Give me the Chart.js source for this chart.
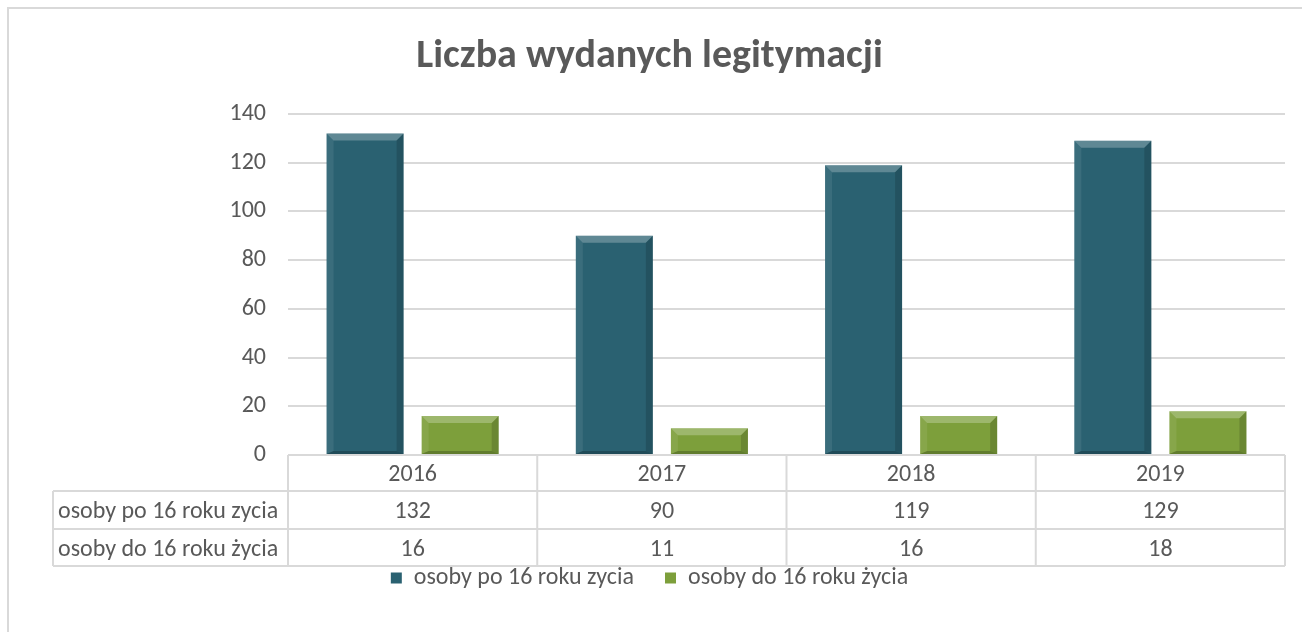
<!DOCTYPE html>
<html>
<head>
<meta charset="utf-8">
<script src="https://cdn.jsdelivr.net/npm/chart.js@4/dist/chart.umd.min.js"></script>
<style>
html,body{margin:0;padding:0;background:#fff;}
#wrap{position:relative;width:1302px;height:632px;}
#frame{position:absolute;left:7px;top:7px;width:1400px;height:700px;border-left:2px solid #d9d9d9;border-top:2px solid #d9d9d9;box-sizing:border-box;}
canvas{position:absolute;left:0;top:0;}
</style>
</head>
<body>
<div id="wrap"><div id="frame"></div><canvas id="c" width="1302" height="632"></canvas></div>
<script>
const categories = ["2016", "2017", "2018", "2019"];
const seriesNames = ["osoby po 16 roku zycia", "osoby do 16 roku życia"];
const seriesAbove16 = [132, 90, 119, 129];
const seriesUnder16 = [16, 11, 16, 18];
const yTicks = [0, 20, 40, 60, 80, 100, 120, 140];
const chartTitle = "Liczba wydanych legitymacji";

const FONT = "Carlito, Lato, 'Open Sans', sans-serif";
const TXT = "#595959";
const LINE = "#d9d9d9";
const colors = ["#2a6171", "#7d9f3b"];

const bevelPlugin = {
  id: 'bevel',
  afterDatasetsDraw(chart) {
    const ctx = chart.ctx;
    chart.data.datasets.forEach((ds, di) => {
      const meta = chart.getDatasetMeta(di);
      meta.data.forEach(bar => {
        const w = bar.width, l = bar.x - w / 2, r = bar.x + w / 2, t = bar.y, b = bar.base;
        const s = Math.min(7, (b - t) / 2);
        const sb = Math.min(3, (b - t) / 4);
        ctx.save();
        ctx.fillStyle = 'rgba(255,255,255,0.25)';
        ctx.beginPath(); ctx.moveTo(l, t); ctx.lineTo(r, t); ctx.lineTo(r - s, t + s); ctx.lineTo(l + s, t + s); ctx.closePath(); ctx.fill();
        ctx.fillStyle = 'rgba(255,255,255,0.08)';
        ctx.beginPath(); ctx.moveTo(l, t); ctx.lineTo(l + s, t + s); ctx.lineTo(l + s, b - sb); ctx.lineTo(l, b); ctx.closePath(); ctx.fill();
        ctx.fillStyle = 'rgba(0,0,0,0.15)';
        ctx.beginPath(); ctx.moveTo(r, t); ctx.lineTo(r - s, t + s); ctx.lineTo(r - s, b - sb); ctx.lineTo(r, b); ctx.closePath(); ctx.fill();
        ctx.fillStyle = 'rgba(0,0,0,0.22)';
        ctx.beginPath(); ctx.moveTo(l, b); ctx.lineTo(r, b); ctx.lineTo(r - s, b - sb); ctx.lineTo(l + s, b - sb); ctx.closePath(); ctx.fill();
        ctx.restore();
      });
    });
  }
};

const tablePlugin = {
  id: 'dataTable',
  afterDraw(chart) {
    const ctx = chart.ctx;
    const xs = chart.scales.x;
    const ca = chart.chartArea;
    const top = ca.bottom;
    const rowH = [36, 38, 37];
    const y1 = top + rowH[0], y2 = y1 + rowH[1], y3 = y2 + rowH[2];
    const leftX = 53;
    const step = (ca.right - ca.left) / categories.length;
    ctx.save();
    ctx.strokeStyle = LINE; ctx.lineWidth = 2;
    ctx.beginPath();
    ctx.moveTo(ca.left, top); ctx.lineTo(ca.right, top);
    ctx.moveTo(leftX, y1); ctx.lineTo(ca.right, y1);
    ctx.moveTo(leftX, y2); ctx.lineTo(ca.right, y2);
    ctx.moveTo(leftX, y3); ctx.lineTo(ca.right, y3);
    ctx.moveTo(leftX, y1); ctx.lineTo(leftX, y3);
    for (let i = 0; i <= categories.length; i++) {
      const x = ca.left + i * step;
      ctx.moveTo(x, top); ctx.lineTo(x, y3);
    }
    ctx.stroke();
    ctx.fillStyle = TXT;
    ctx.font = "24px " + FONT;
    ctx.textBaseline = 'middle';
    ctx.textAlign = 'center';
    const dy = 2;
    categories.forEach((c, i) => {
      const cx = xs.getPixelForValue(i);
      ctx.fillText(c, cx, (top + y1) / 2 + dy);
      ctx.fillText(String(seriesAbove16[i]), cx, (y1 + y2) / 2 + dy);
      ctx.fillText(String(seriesUnder16[i]), cx, (y2 + y3) / 2 + dy);
    });
    ctx.textAlign = 'left';
    ctx.fillText(seriesNames[0], leftX + 5, (y1 + y2) / 2 + dy);
    ctx.fillText(seriesNames[1], leftX + 5, (y2 + y3) / 2 + dy);
    ctx.restore();
  }
};

new Chart(document.getElementById('c'), {
  type: 'bar',
  data: {
    labels: categories,
    datasets: [
      { label: seriesNames[0], data: seriesAbove16, backgroundColor: colors[0] },
      { label: seriesNames[1], data: seriesUnder16, backgroundColor: colors[1] }
    ]
  },
  options: {
    responsive: false,
    animation: false,
    categoryPercentage: 0.763,
    barPercentage: 0.81,
    layout: { padding: { left: 14, right: 17, top: 0, bottom: 32 } },
    plugins: {
      title: {
        display: true, text: chartTitle, color: TXT,
        font: { family: FONT, size: 40, weight: 'bold' },
        padding: { top: 33, bottom: 33 }
      },
      legend: {
        position: 'bottom',
        labels: { color: TXT, font: { family: FONT, size: 24 }, boxWidth: 11, boxHeight: 11, padding: 31 }
      },
      tooltip: { enabled: false }
    },
    scales: {
      x: {
        grid: { display: false }, border: { display: false },
        ticks: { display: false },
        afterFit(s) { s.height = 80; }
      },
      y: {
        min: 0, max: 140,
        afterBuildTicks(s) { s.ticks = yTicks.map(v => ({ value: v })); },
        afterFit(s) { s.width = 274; },
        grid: { color: LINE, lineWidth: 2, drawTicks: false },
        border: { display: false },
        ticks: { color: TXT, font: { family: FONT, size: 24 }, padding: 22 }
      }
    }
  },
  plugins: [bevelPlugin, tablePlugin]
});
</script>
</body>
</html>
